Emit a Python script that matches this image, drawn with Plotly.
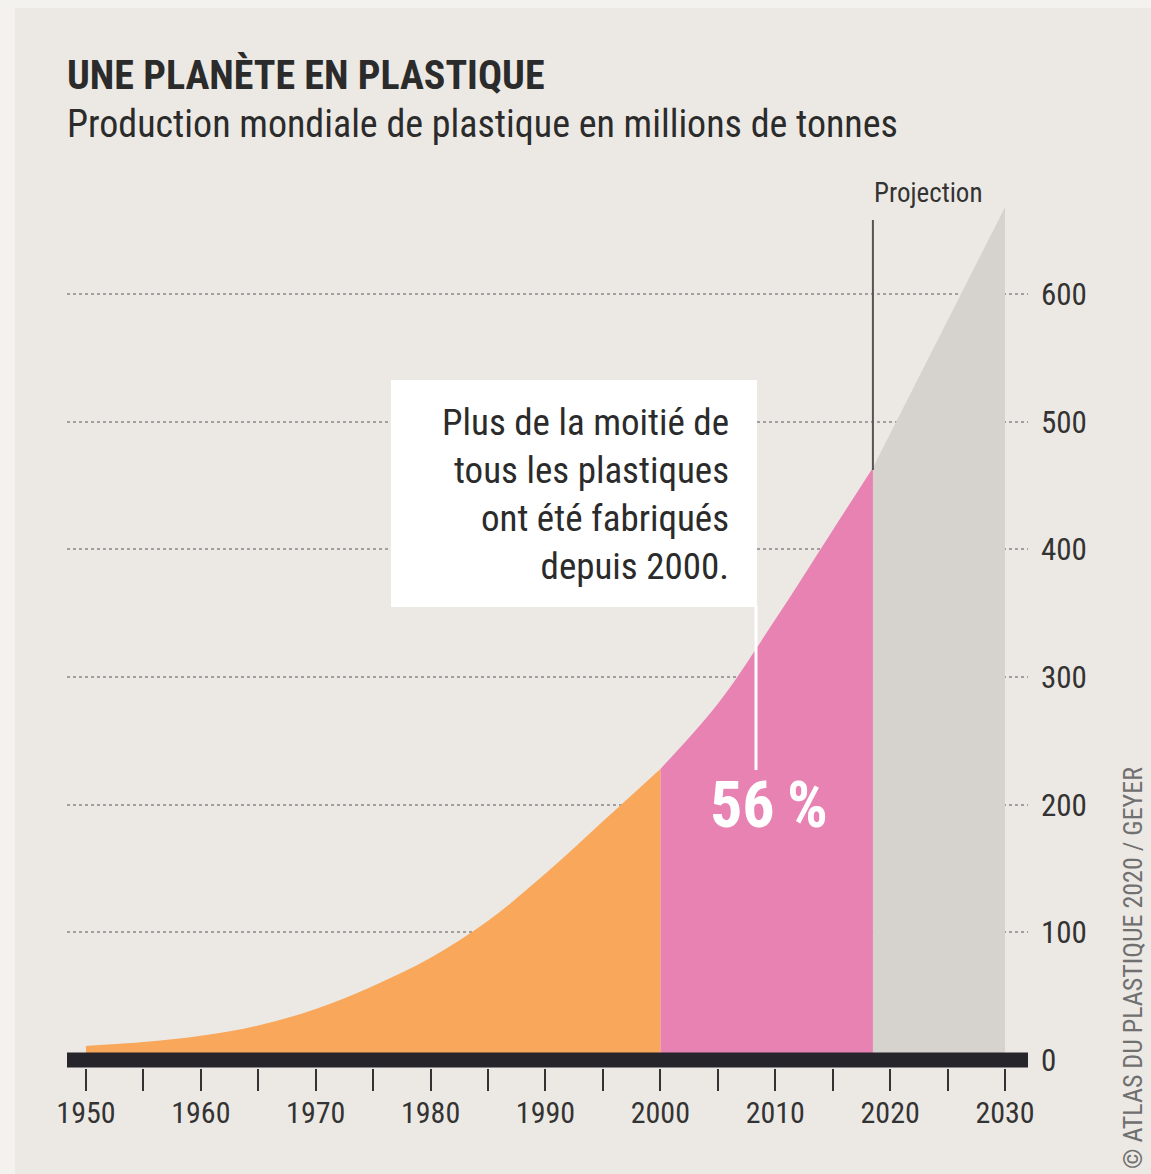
import plotly.graph_objects as go

# production mondiale de plastique (millions de tonnes)
years_hist = [1950, 1955, 1960, 1965, 1970, 1975, 1980, 1985, 1990, 1995, 2000]
prod_hist = [11, 14, 19, 27, 40, 58, 80, 109, 146, 187, 228]

years_recent = [2000, 2005, 2010, 2015, 2018.5]
prod_recent = [228, 279, 345, 415, 464]

years_proj = [2018.5, 2030]
prod_proj = [464, 668]

x_ticks = [1950, 1960, 1970, 1980, 1990, 2000, 2010, 2020, 2030]
y_ticks = [0, 100, 200, 300, 400, 500, 600]

W, H = 1151, 1174
L, R, T, B = 67, 123, 180, 106
PW, PH = W - L - R, H - T - B

FONT = "Liberation Sans Narrow, Roboto Condensed, DejaVu Sans Condensed, Roboto, sans-serif"
INK = "#2b2b2b"
BG = "#ECE9E4"


def px(x):
    return (x - L) / PW


def py(y):
    return (H - B - y) / PH


fig = go.Figure()
for xs, ys, col in [
    (years_proj, prod_proj, "#D6D3CF"),
    (years_recent, prod_recent, "#E882B3"),
    (years_hist, prod_hist, "#F9A75B"),
]:
    fig.add_trace(go.Scatter(
        x=xs, y=ys, mode="lines", fill="tozeroy",
        fillcolor=col, line=dict(color=col, width=0, shape="spline", smoothing=1.0),
        hoverinfo="skip",
    ))

# cadre intérieur
fig.add_shape(type="rect", xref="paper", yref="paper",
              x0=px(15), x1=px(W + 5), y0=py(8), y1=py(H + 5),
              fillcolor=BG, line=dict(width=0), layer="below")

# barre de base
fig.add_shape(type="line", xref="paper", yref="y", x0=0, x1=1, y0=0, y1=0,
              line=dict(color="#25252b", width=15))

# ligne projection
fig.add_shape(type="line", xref="x", yref="paper", x0=years_proj[0], x1=years_proj[0],
              y0=py(220), y1=py(470), line=dict(color="#555", width=2))
fig.add_annotation(text="Projection", xref="paper", yref="paper", x=px(928), y=py(193),
                   showarrow=False, font=dict(family=FONT, size=27, color="#333"),
                   xanchor="center", yanchor="middle")

# encadré
fig.add_shape(type="rect", xref="paper", yref="paper",
              x0=px(391), x1=px(757), y0=py(607), y1=py(380),
              fillcolor="white", line=dict(width=0))
fig.add_shape(type="line", xref="paper", yref="paper",
              x0=px(756), x1=px(756), y0=py(605), y1=py(770),
              line=dict(color="white", width=3))
fig.add_annotation(
    text="Plus de la moitié de<br>tous les plastiques<br>ont été fabriqués<br>depuis 2000.",
    xref="paper", yref="paper", x=px(731), y=py(494), showarrow=False,
    align="right", xanchor="right", yanchor="middle",
    font=dict(family=FONT, size=37, color=INK),
)
fig.add_annotation(text="<b>56\u2009%</b>", xref="paper", yref="paper", x=px(769), y=py(805),
                   showarrow=False, font=dict(family=FONT, size=64, color="white"),
                   xanchor="center", yanchor="middle")

# titre
fig.add_annotation(text="<b>UNE PLANÈTE EN PLASTIQUE</b>", xref="paper", yref="paper",
                   x=px(65), y=py(75), showarrow=False, xanchor="left", yanchor="middle",
                   font=dict(family=FONT, size=40, color=INK))
fig.add_annotation(text="Production mondiale de plastique en millions de tonnes",
                   xref="paper", yref="paper", x=px(65), y=py(124), showarrow=False,
                   xanchor="left", yanchor="middle",
                   font=dict(family=FONT, size=38, color=INK))

# source
fig.add_annotation(text="© ATLAS DU PLASTIQUE 2020 / GEYER", xref="paper", yref="paper",
                   x=px(1133), y=py(968), showarrow=False, textangle=-90,
                   xanchor="center", yanchor="middle",
                   font=dict(family=FONT, size=26, color="#707070"))

fig.update_layout(
    width=W, height=H,
    margin=dict(l=L, r=R, t=T, b=B),
    paper_bgcolor="#F4F2EF", plot_bgcolor="rgba(0,0,0,0)",
    showlegend=False,
    font=dict(family=FONT, color=INK),
)
fig.update_xaxes(
    range=[1948.35, 2032.0], tickvals=x_ticks, ticks="outside", ticklen=22,
    tickwidth=2, tickcolor="#333", ticklabelstandoff=-4,
    tickfont=dict(family=FONT, size=30, color="#333"),
    showgrid=False, zeroline=False, showline=False,
    minor=dict(tickvals=[1955, 1965, 1975, 1985, 1995, 2005, 2015, 2025],
               ticks="outside", ticklen=22, tickwidth=2, tickcolor="#333", showgrid=False),
)
fig.update_yaxes(
    range=[-6.27, 689.3], tickvals=y_ticks, side="right", ticks="",
    ticklabelstandoff=12, tickfont=dict(family=FONT, size=31, color="#333"),
    showgrid=True, gridcolor="#a0a0a0", griddash="dot", gridwidth=1.5,
    zeroline=False, showline=False,
)

fig.write_html("out.html", config={"displayModeBar": False},
               post_script="document.body.style.margin='0';")
